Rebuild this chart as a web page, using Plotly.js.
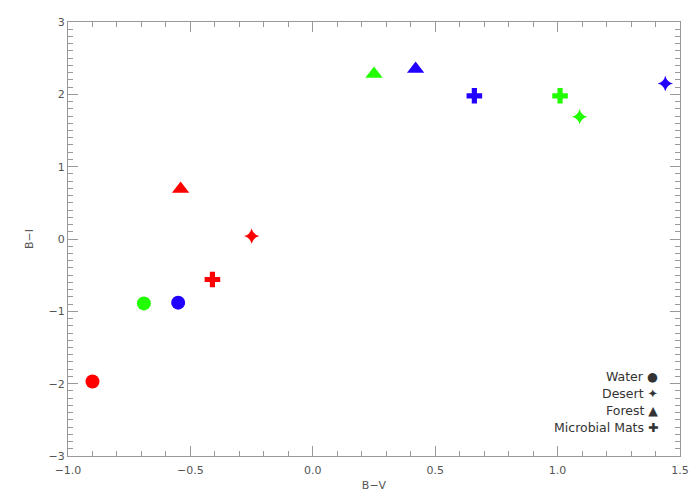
<!DOCTYPE html>
<html><head><meta charset="utf-8">
<script src="https://cdn.plot.ly/plotly-3.0.1.min.js"></script>
<style>body{margin:0;background:#fff}#c{width:700px;height:500px}</style>
</head><body><div id="c"></div>
<script>
const categories = ['Water', 'Desert', 'Forest', 'Microbial Mats'];
const legendGlyphs = ['●', '✦', '▲', '✚'];
const pointColors = ['#ff0000', '#22ff00', '#2200ff'];
const waterX = [-0.90, -0.69, -0.55];
const waterY = [-1.97, -0.89, -0.88];
const desertX = [-0.25, 1.09, 1.44];
const desertY = [0.04, 1.69, 2.15];
const forestX = [-0.54, 0.25, 0.42];
const forestY = [0.69, 2.28, 2.35];
const matsX = [-0.41, 1.01, 0.66];
const matsY = [-0.56, 1.98, 1.98];

const xs = [waterX, desertX, forestX, matsX];
const ys = [waterY, desertY, forestY, matsY];
const symbols = ['circle', 'star-diamond', 'triangle-up', 'cross'];
const sizes = [14, 11, 15, 13];

const traces = categories.map((name, i) => ({
  type: 'scatter', mode: 'markers', name: name,
  x: xs[i], y: ys[i],
  marker: {symbol: symbols[i], size: sizes[i], color: pointColors, line: {width: 0}},
  hoverinfo: 'x+y+name'
}));

const font = {family: 'DejaVu Sans, sans-serif', size: 11, color: '#555'};
const axisCommon = {
  showgrid: false, zeroline: false, showline: true, linecolor: '#999', linewidth: 1,
  mirror: 'ticks', ticks: 'inside', ticklen: 10, tickcolor: '#999', tickwidth: 1,
  tickfont: font
};

const annotations = categories.map((name, i) => ({
  xref: 'paper', yref: 'paper', x: (660 - 68) / 612, y: (456 - (376 + 17 * i)) / 434,
  xanchor: 'right', yanchor: 'middle', showarrow: false,
  text: name + ' ' + legendGlyphs[i],
  font: {family: 'DejaVu Sans, sans-serif', size: 12.5, color: '#333'}
}));

const layout = {
  width: 700, height: 500,
  margin: {l: 68, r: 20, t: 22, b: 44},
  paper_bgcolor: '#fff', plot_bgcolor: '#fff',
  showlegend: false,
  font: font,
  xaxis: Object.assign({}, axisCommon, {
    range: [-1.0, 1.5], dtick: 0.5, tick0: 0, tickformat: '.1f',
    ticklabelstandoff: 4,
    minor: {dtick: 0.1, ticks: 'inside', ticklen: 5, tickcolor: '#999'},
    title: {text: 'B−V', font: font, standoff: 5}
  }),
  yaxis: Object.assign({}, axisCommon, {
    range: [-3, 3], dtick: 1, tick0: 0,
    minor: {dtick: 0.1, ticks: 'inside', ticklen: 5, tickcolor: '#999'},
    title: {text: 'B−I', font: font, standoff: 12}
  }),
  annotations: annotations
};

Plotly.newPlot('c', traces, layout, {displayModeBar: false, staticPlot: true});
</script></body></html>
